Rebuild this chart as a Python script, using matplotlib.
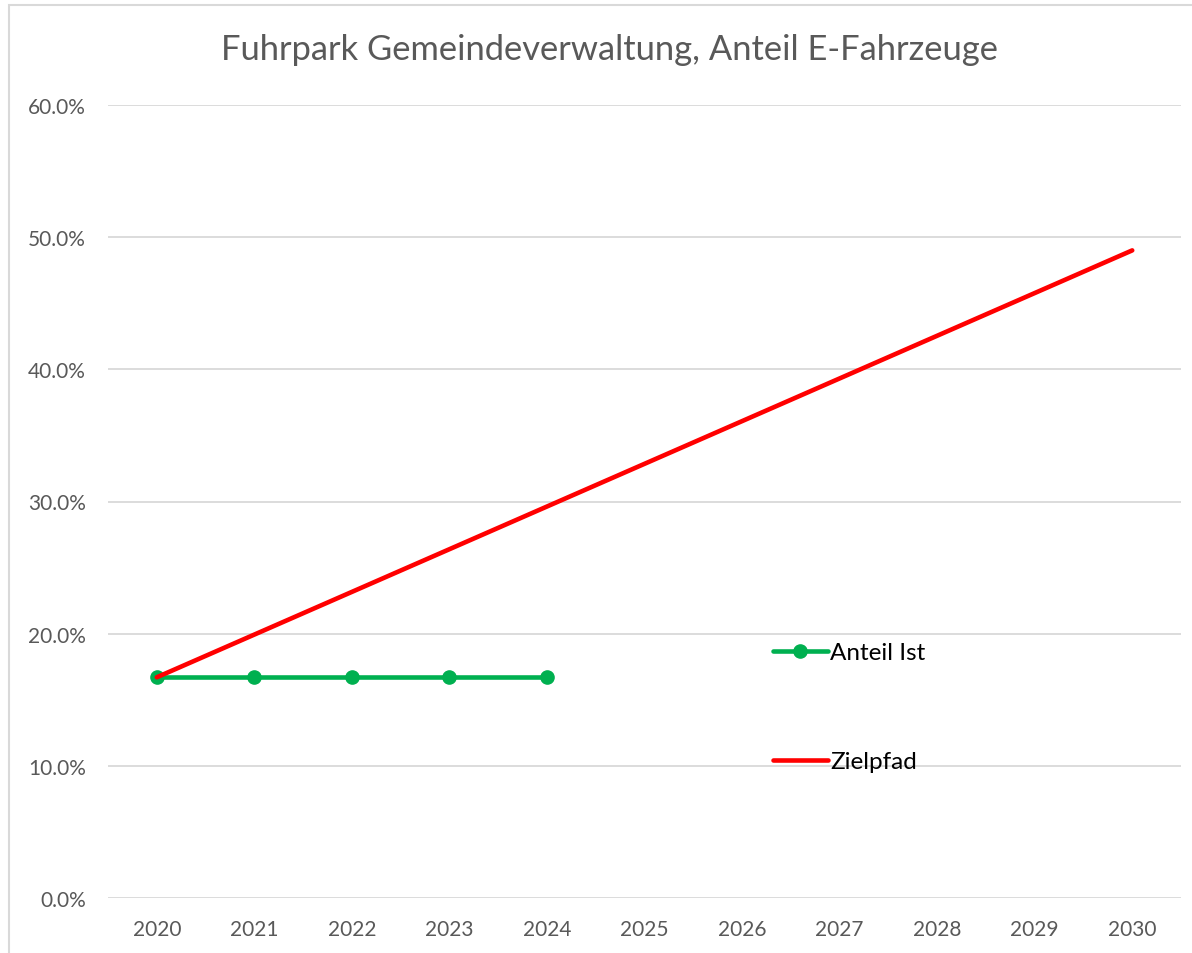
import matplotlib
matplotlib.use("Agg")
import matplotlib.pyplot as plt
from matplotlib.patches import Rectangle
import numpy as np

years = [2020, 2021, 2022, 2023, 2024, 2025, 2026, 2027, 2028, 2029, 2030]
ist_years = [2020, 2021, 2022, 2023, 2024]
ist_values = [0.167, 0.167, 0.167, 0.167, 0.167]
ziel_years = [2020, 2030]
ziel_values = [0.167, 0.49]
y_ticks = [0.0, 0.1, 0.2, 0.3, 0.4, 0.5, 0.6]
title = "Fuhrpark Gemeindeverwaltung, Anteil E-Fahrzeuge"

plt.rcParams['font.family'] = ['Lato', 'DejaVu Sans']
W, H = 1192, 954
fig = plt.figure(figsize=(W / 100, H / 100), dpi=100)
fig.patch.set_facecolor('white')

# chart border
fig.patches.append(Rectangle((9 / W, -0.05), 1.2, (H - 6) / H + 0.05, transform=fig.transFigure,
                             fill=False, edgecolor='#D9D9D9', linewidth=1.5))

ax = fig.add_axes([108 / W, (H - 899) / H, (1181 - 108) / W, (899 - 106) / H])
pos = {y: i for i, y in enumerate(years)}

ax.plot([pos[y] for y in ist_years], ist_values, color='#00B050', linewidth=3.3,
        marker='o', markersize=9.5, label='Anteil Ist', solid_capstyle='round', zorder=3)
ax.plot([pos[y] for y in ziel_years], ziel_values, color='#FF0000', linewidth=3.3,
        label='Zielpfad', solid_capstyle='round', zorder=4)

ax.set_xlim(-0.5, len(years) - 0.5)
ax.set_ylim(0, 0.6)
ax.set_xticks(range(len(years)))
ax.set_xticklabels([str(y) for y in years])
ax.set_yticks(y_ticks)
ax.set_yticklabels([f"{v * 100:.1f}%" for v in y_ticks])
ax.tick_params(axis='both', length=0, labelsize=15, labelcolor='#595959')
ax.tick_params(axis='x', pad=15)
ax.tick_params(axis='y', pad=16)
for s in ax.spines.values():
    s.set_visible(False)
ax.yaxis.grid(True, color='#D9D9D9', linewidth=1.3)
ax.set_axisbelow(True)

fig.text(609.5 / W, 1 - 50 / H, title, ha='center', va='center', fontsize=24.8,
         color='#595959')

leg = ax.legend(loc='upper left', bbox_to_anchor=(773 / W, (H - 643) / H),
                bbox_transform=fig.transFigure, frameon=False, fontsize=17.5,
                handlelength=2.25, handletextpad=0.1, labelspacing=3.62,
                borderpad=0, borderaxespad=0, numpoints=1)
for t in leg.get_texts():
    t.set_color('black')

fig.savefig('out.png', dpi=100, facecolor='white')
